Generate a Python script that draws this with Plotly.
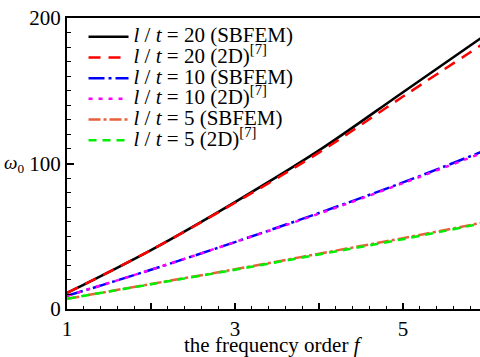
import plotly.graph_objects as go

f = [1, 2, 3, 4, 5, 6]
lt20_sbfem = [11, 40.5, 73.5, 109, 149, 189]
lt20_2d = [11, 40.5, 73, 107.5, 146, 184]
lt10_sbfem = [9, 27, 46, 66, 87, 109.5]
lt10_2d = [9, 27, 46, 65.5, 86.5, 108.5]
lt5_sbfem = [7, 17.2, 27.3, 38, 48.7, 60]
lt5_2d = [7, 17, 27, 37.5, 48, 59.5]

names = [
    "<i>l</i> / <i>t</i> = 20 (SBFEM)",
    "<i>l</i> / <i>t</i> = 20 (2D)<sup>[7]</sup>",
    "<i>l</i> / <i>t</i> = 10 (SBFEM)",
    "<i>l</i> / <i>t</i> = 10 (2D)<sup>[7]</sup>",
    "<i>l</i> / <i>t</i> = 5 (SBFEM)",
    "<i>l</i> / <i>t</i> = 5 (2D)<sup>[7]</sup>",
]
series = [lt20_sbfem, lt20_2d, lt10_sbfem, lt10_2d, lt5_sbfem, lt5_2d]
colors = ["#000000", "#ff0000", "#0000ff", "#ff00ff", "#e8603c", "#00ee00"]
dashes = ["solid", "12px,8px", "16px,4px,3px,4px", "4px,6px", "12px,3px,3px,3px", "8px,6px"]

FAM = "Liberation Serif"

fig = go.Figure()
for n, s, c, d in zip(names, series, colors, dashes):
    fig.add_trace(go.Scatter(x=f, y=s, mode="lines",
                             name='<span style="font-size:21px;font-family:Liberation Serif">' + n + "</span>",
                             line=dict(color=c, width=2.5, dash=d, shape="spline")))

font = dict(family=FAM, size=21, color="black")
fig.update_layout(
    width=480, height=357,
    margin=dict(l=67, r=0, t=18, b=48, autoexpand=False),
    paper_bgcolor="white", plot_bgcolor="white",
    font=font,
    showlegend=True,
    legend=dict(x=0.04, y=0.988, xanchor="left", yanchor="top",
                bgcolor="rgba(0,0,0,0)", font=dict(family=FAM, size=13.6, color="black"),
                tracegroupgap=0, itemwidth=40),
    xaxis=dict(range=[1, 5.917], showline=True, linecolor="black", linewidth=2,
               mirror=True, showgrid=False, zeroline=False, automargin=False,
               tickvals=f, ticktext=["1", "", "3", "", "5", ""],
               ticks="inside", ticklen=6, tickwidth=1.5, tickcolor="black",
               tickfont=font,
               minor=dict(dtick=0.2, tick0=1, ticks="inside", ticklen=3,
                          tickwidth=1.2, tickcolor="black", showgrid=False)),
    yaxis=dict(range=[0, 200], showline=True, linecolor="black", linewidth=2,
               showgrid=False, zeroline=False, automargin=False,
               tickvals=[0, 100, 200], tickfont=font,
               ticks="inside", ticklen=7, tickwidth=1.5, tickcolor="black",
               minor=dict(dtick=10, tick0=0, ticks="inside", ticklen=4,
                          tickwidth=1.2, tickcolor="black", showgrid=False)),
)
fig.add_annotation(text="<i>ω</i><sub>0</sub>", xref="paper", yref="paper",
                   x=-0.128, y=0.5, showarrow=False, xanchor="center", yanchor="middle",
                   font=dict(family=FAM, size=19, color="black"))
fig.add_annotation(text="the frequency order <i>f</i>", xref="paper", yref="paper",
                   x=0.5, y=0, yshift=-36, showarrow=False, xanchor="center",
                   yanchor="middle", font=dict(family=FAM, size=21, color="black"))
fig.write_html("out.html", config={"displayModeBar": False},
               post_script="document.body.style.margin='0';document.body.style.padding='0';")
